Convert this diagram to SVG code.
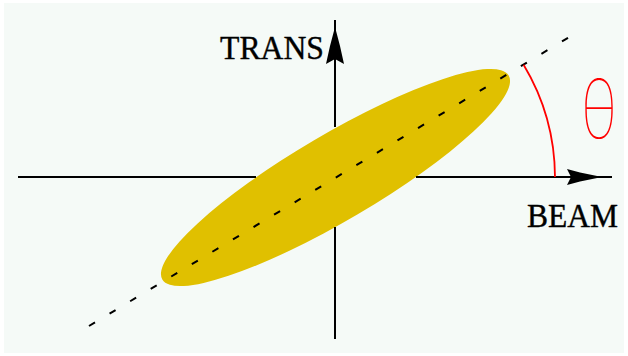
<svg xmlns="http://www.w3.org/2000/svg" width="628" height="356" viewBox="0 0 628 356">
<style>
.axis{stroke:#000;stroke-width:2;fill:none}
.head{fill:#000}
.lbl{font-family:"Liberation Serif",serif;font-size:34px;fill:#000;stroke:#000;stroke-width:0.4}
.red{stroke:#ff0000;stroke-width:1.8;fill:none}
</style>
<rect x="0" y="0" width="628" height="356" fill="#ffffff"/>
<rect x="4" y="3" width="620" height="350" fill="#f5faf7"/>
<g id="beam-ellipse">
<ellipse cx="335.5" cy="177.5" rx="201" ry="43" transform="rotate(-30.5 335.5 177.5)" fill="#e0c000"/>
</g>
<g id="connectors">
<line class="axis" x1="18" y1="177" x2="256" y2="177"/>
<line class="axis" x1="416" y1="177" x2="612" y2="177"/>
<line class="axis" x1="335" y1="20" x2="335" y2="127"/>
<line class="axis" x1="335" y1="227" x2="335" y2="339"/>
<polygon class="head" points="567,169 580,172.5 602,177 580,181.5 567,185 571,177"/>
<polygon class="head" points="335,27 340,46 344,64 335,59 326,64 330,46"/>
<line x1="89" y1="326" x2="581" y2="30" stroke="#000" stroke-width="2" stroke-dasharray="7 17"/>
<path class="red" d="M555,177 A220,220 0 0 0 523.6,64.7"/>
</g>
<g id="trans-label"><text class="lbl" x="220" y="59" textLength="104" lengthAdjust="spacingAndGlyphs">TRANS</text></g>
<g id="beam-label"><text class="lbl" x="527" y="227" textLength="91" lengthAdjust="spacingAndGlyphs">BEAM</text></g>
<g id="theta-label"><text x="599" y="139" text-anchor="middle" font-family="Inter, 'DejaVu Sans', sans-serif" font-weight="100" font-size="84" fill="#ff0000" transform="translate(599 0) scale(0.72 1) translate(-599 0)">θ</text></g>
</svg>
